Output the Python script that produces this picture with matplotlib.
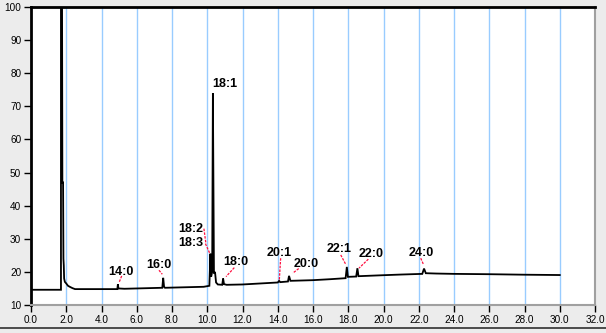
import matplotlib
matplotlib.use("Agg")
import matplotlib.pyplot as plt
from matplotlib.transforms import offset_copy
from matplotlib.lines import Line2D

# ---- data ----
time = [0.0, 1.70, 1.70, 1.76, 1.78, 1.82, 1.84, 1.86, 1.88, 1.92, 2.0, 2.1, 2.2, 2.35, 2.5,
        4.90, 4.93, 4.96, 5.3, 7.45, 7.50, 7.55, 7.6, 9.8,
        10.12, 10.18, 10.22, 10.28, 10.32, 10.38, 10.44, 10.50, 10.6,
        10.85, 10.90, 10.95, 11.1, 12.0, 13.0, 14.0, 14.08, 14.14,
        14.58, 14.64, 14.72, 16.0, 17.0, 17.85, 17.92, 17.98,
        18.45, 18.52, 18.58, 20.0, 21.0, 22.2, 22.3, 22.4, 23.0,
        24.0, 26.0, 28.0, 30.0]
signal = [14.6, 14.6, 106.0, 106.0, 47.0, 47.0, 24.0, 22.0, 18.0, 17.0, 16.5, 15.8, 15.5, 15.1, 14.8,
          14.8, 16.3, 15.0, 14.9, 15.2, 18.2, 15.5, 15.2, 15.5,
          15.8, 25.5, 18.5, 20.0, 74.0, 19.5, 20.0, 16.8, 16.2,
          16.1, 18.0, 16.3, 16.1, 16.2, 16.5, 16.8, 17.3, 16.9,
          17.1, 18.8, 17.3, 17.5, 17.8, 18.1, 21.5, 18.5,
          18.6, 21.1, 18.7, 19.0, 19.2, 19.4, 21.0, 19.6, 19.5,
          19.4, 19.3, 19.15, 19.05]

peak_names = ["14:0", "16:0", "18:2", "18:3", "18:1", "18:0", "20:1", "20:0", "22:1", "22:0", "24:0"]
peak_times = [4.93, 7.50, 10.18, 10.18, 10.32, 10.90, 14.08, 14.64, 17.92, 18.52, 22.30]
peak_heights = [16.3, 18.2, 25.5, 25.5, 74.0, 18.0, 17.3, 18.8, 21.5, 21.1, 21.0]

x_ticks = [0, 2, 4, 6, 8, 10, 12, 14, 16, 18, 20, 22, 24, 26, 28, 30, 32]
y_ticks = [10, 20, 30, 40, 50, 60, 70, 80, 90, 100]

# ---- layout (pixel offsets from the peak top, x right / y up) ----
label_offsets = [(3, 8.7), (-4, 9.4), (-20, 22), (-20, 8), (12, 6), (13, 14), (0, 25), (17, 9), (-8, 15), (14, 11), (-3, 13)]
leader_start = [(3.8, 8.2), (-4.2, 7.6), (-6.5, 25), (-5, 10), None, (11.2, 10.9), (1.5, 22.6), (9.7, 7.3), (-6.1, 12), (10.9, 9.1), (-3.3, 10.4)]
leader_end = [(1.4, 2.2), (-0.9, 3.6), (-4.5, 10), (-0.5, 0), None, (2.9, 1.9), (0.1, 0), (3.7, 2.7), (-0.8, 2), (1.6, 0.1), (-0.7, 4.4)]

BG = "#ececec"
fig = plt.figure(figsize=(6.06, 3.33), dpi=100, facecolor=BG)
ax = fig.add_axes([31 / 606, 1 - 305 / 333, (595 - 31) / 606, (305 - 7) / 333])
ax.set_facecolor("white")

for xt in x_ticks[1:-1]:
    ax.axvline(xt, color="#99ccff", lw=1.0, zorder=1)

ax.plot(time, signal, color="black", lw=1.3, zorder=3, solid_joinstyle="miter")

ax.set_xlim(0, 32)
ax.set_ylim(10, 100)
ax.set_xticks(x_ticks)
ax.set_xticklabels([f"{v:.1f}" for v in x_ticks])
ax.set_yticks(y_ticks)
ax.set_yticklabels([str(v) for v in y_ticks])
ax.tick_params(axis="both", direction="out", length=5, width=1, color="black",
               labelsize=7.2, pad=2)
for lab in ax.get_xticklabels() + ax.get_yticklabels():
    lab.set_fontfamily("Liberation Sans")

ax.spines["left"].set_color("black")
ax.spines["left"].set_linewidth(2)
ax.spines["top"].set_color("black")
ax.spines["top"].set_linewidth(2)
ax.spines["right"].set_color("#a0a0a0")
ax.spines["right"].set_linewidth(1.5)
ax.spines["bottom"].set_color("#a0a0a0")
ax.spines["bottom"].set_linewidth(1.5)
for s in ax.spines.values():
    s.set_zorder(5)

for i, name in enumerate(peak_names):
    px, py = peak_times[i], peak_heights[i]
    dx, dy = label_offsets[i]
    tr = offset_copy(ax.transData, fig=fig, x=dx, y=dy, units="dots")
    ax.text(px, py, name, transform=tr, ha="center", va="baseline",
            fontsize=9, fontweight="bold", family="Liberation Sans", zorder=6)
    if leader_start[i] is not None:
        sx, sy = leader_start[i]
        ex, ey = leader_end[i]
        x0, y0 = ax.transData.transform((px, py))
        p1 = ax.transData.inverted().transform((x0 + sx, y0 + sy))
        p2 = ax.transData.inverted().transform((x0 + ex, y0 + ey))
        ax.plot([p1[0], p2[0]], [p1[1], p2[1]], color="#ff1040", lw=0.9,
                ls=(0, (2, 1)), zorder=4)

# window bevel at bottom
fig.add_artist(Line2D([0, 1], [1 - 328 / 333, 1 - 328 / 333], transform=fig.transFigure,
                      color="#303030", lw=1.2))

fig.savefig("out.png", dpi=100, facecolor=BG)
